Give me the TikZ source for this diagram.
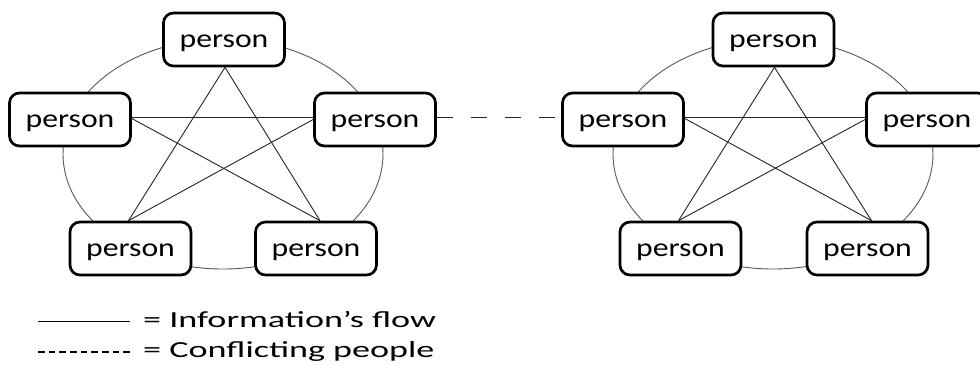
\documentclass[tikz,border=0pt]{standalone}
\usepackage{fontspec}
\setmainfont{Carlito}
\newfontfamily\nodefont[FakeStretch=1.22]{Carlito}
\newfontfamily\legendfont[FakeStretch=1.57]{Carlito}
\begin{document}
\begin{tikzpicture}[x=1pt,y=-1pt,
  personbox/.style={draw=black,line width=2.7pt,rounded corners=10pt,fill=white,
    minimum width=121pt,minimum height=53pt,inner sep=0pt,
    font=\nodefont\fontsize{26pt}{30pt}\selectfont,text height=15.6pt,text depth=0pt},
  ring/.style={draw=black!65,line width=0.9pt},
  flow/.style={draw=black!85,line width=0.9pt},
  conflict/.style={draw=black!85,line width=1pt,dash pattern=on 16pt off 18pt},
  legendtext/.style={inner sep=0pt,anchor=base west,font=\legendfont\fontsize{23pt}{27pt}\selectfont}
]
\useasboundingbox (0,0) rectangle (980,365);
\fill[white] (0,0) rectangle (980,365);

% rings
\draw[ring] (223,154) ellipse [x radius=160pt,y radius=115pt];
\draw[ring] (773,154) ellipse [x radius=160pt,y radius=115pt];

% left group
\node[personbox] (at) at (224,39.5) {person};
\node[personbox] (al) at (70,119.5) {person};
\node[personbox] (ar) at (375,119.5) {person};
\node[personbox] (abl) at (130.5,248.5) {person};
\node[personbox] (abr) at (316,248.5) {person};

% right group
\node[personbox] (bt) at (773.5,39.5) {person};
\node[personbox] (bl) at (623,119.5) {person};
\node[personbox] (br) at (927,119.5) {person};
\node[personbox] (bbl) at (680.5,248.5) {person};
\node[personbox] (bbr) at (867.5,248.5) {person};

% star, left group
\draw[flow] ([xshift=1pt]at.south) -- ([xshift=-2pt]abl.north);
\draw[flow] ([xshift=1pt]at.south) -- ([xshift=4pt]abr.north);
\draw[flow] ([yshift=2.5pt]al.east) -- ([yshift=2.5pt]ar.west);
\draw[flow] ([yshift=1pt]al.east) -- ([xshift=4pt]abr.north);
\draw[flow] ([yshift=0pt]ar.west) -- ([xshift=-2pt]abl.north);

% star, right group
\draw[flow] ([xshift=1pt]bt.south) -- ([xshift=-2pt]bbl.north);
\draw[flow] ([xshift=1pt]bt.south) -- ([xshift=4pt]bbr.north);
\draw[flow] ([yshift=2.5pt]bl.east) -- ([yshift=2.5pt]br.west);
\draw[flow] ([yshift=1pt]bl.east) -- ([xshift=4pt]bbr.north);
\draw[flow] ([yshift=0pt]br.west) -- ([xshift=-2pt]bbl.north);

% conflict
\draw[conflict] ([yshift=2.5pt]ar.east) -- ([yshift=2.5pt]bl.west);

% legend
\coordinate (ls1) at (38,321);
\coordinate (ls2) at (130,321);
\coordinate (ld1) at (38,352);
\coordinate (ld2) at (130,352);
\draw[black,line width=1pt] (ls1) -- (ls2);
\draw[black,line width=1.5pt,dash pattern=on 6.8pt off 3.85pt] (ld1) -- (ld2);
\node[legendtext] (lt1) at (143,327.5) {= Information’s flow};
\node[legendtext] (lt2) at (143,357) {= Conflicting people};
\end{tikzpicture}
\end{document}
